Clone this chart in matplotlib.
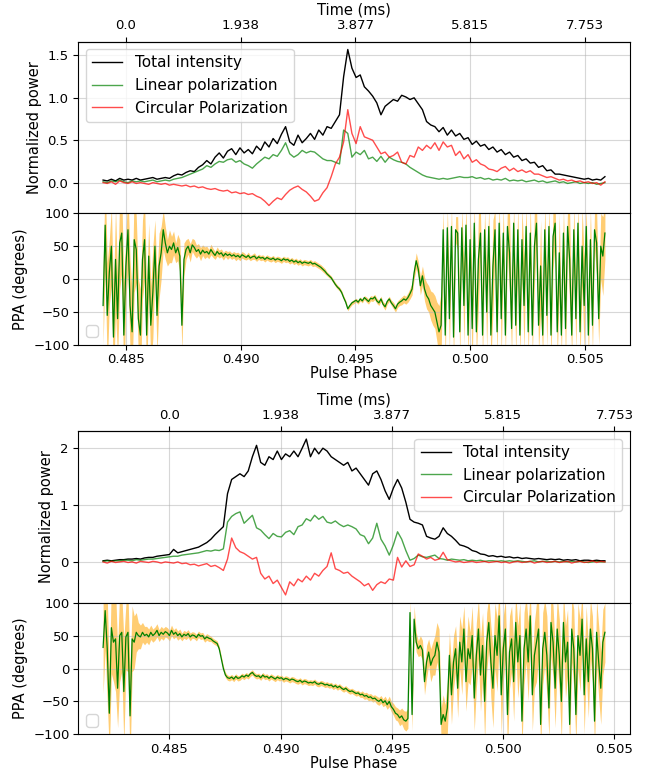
import numpy as np
import matplotlib
matplotlib.use("Agg")
import matplotlib.pyplot as plt

# ---------------- data ----------------
# Panel 1 (upper pair of axes)
phase1_start, phase1_end = 0.48401, 0.50586

I1 = [0.03, 0.02, 0.04, 0.02, 0.05, 0.03, 0.04, 0.03, 0.05, 0.03,
      0.04, 0.05, 0.06, 0.04, 0.05, 0.06, 0.05, 0.08, 0.10, 0.09,
      0.12, 0.14, 0.13, 0.18, 0.21, 0.26, 0.22, 0.30, 0.35, 0.29,
      0.37, 0.40, 0.33, 0.41, 0.35, 0.39, 0.34, 0.43, 0.38, 0.48,
      0.42, 0.52, 0.46, 0.57, 0.66, 0.48, 0.44, 0.56, 0.47, 0.52,
      0.58, 0.51, 0.62, 0.56, 0.66, 0.64, 0.72, 0.80, 1.25, 1.57,
      1.35, 1.24, 1.27, 1.13, 1.08, 1.02, 0.94, 0.80, 0.90, 0.94,
      0.98, 0.96, 1.03, 1.01, 0.98, 1.00, 0.93, 0.86, 0.72, 0.68,
      0.66, 0.60, 0.65, 0.56, 0.62, 0.55, 0.58, 0.51, 0.53, 0.45,
      0.49, 0.43, 0.45, 0.39, 0.42, 0.36, 0.39, 0.33, 0.36, 0.30,
      0.32, 0.26, 0.28, 0.23, 0.24, 0.18, 0.20, 0.14, 0.15, 0.10,
      0.10, 0.09, 0.08, 0.07, 0.06, 0.05, 0.04, 0.05, 0.03, 0.04,
      0.03, 0.07]
L1 = [0.01, 0.00, 0.02, 0.01, 0.03, 0.01, 0.00, 0.02, 0.01, 0.02,
      0.01, 0.02, 0.03, 0.01, 0.02, 0.03, 0.02, 0.04, 0.05, 0.06,
      0.08, 0.10, 0.12, 0.14, 0.16, 0.20, 0.18, 0.22, 0.25, 0.24,
      0.27, 0.28, 0.24, 0.26, 0.22, 0.20, 0.17, 0.22, 0.26, 0.30,
      0.28, 0.33, 0.31, 0.38, 0.47, 0.34, 0.30, 0.33, 0.38, 0.35,
      0.37, 0.36, 0.32, 0.28, 0.26, 0.26, 0.24, 0.22, 0.62, 0.58,
      0.30, 0.36, 0.33, 0.38, 0.28, 0.30, 0.25, 0.31, 0.24, 0.30,
      0.27, 0.25, 0.24, 0.22, 0.18, 0.15, 0.12, 0.09, 0.07, 0.06,
      0.05, 0.04, 0.05, 0.04, 0.05, 0.06, 0.07, 0.06, 0.06, 0.07,
      0.05, 0.06, 0.04, 0.05, 0.03, 0.04, 0.03, 0.05, 0.02, 0.03,
      0.02, 0.03, 0.01, 0.02, 0.03, 0.01, 0.02, 0.00, 0.01, 0.02,
      0.00, 0.01, -0.01, 0.00, 0.01, -0.01, 0.00, -0.01, 0.00, -0.02,
      -0.01, 0.00]
V1 = [0.00, -0.01, 0.01, -0.02, 0.02, 0.00, -0.01, 0.01, -0.01, 0.00,
      -0.01, -0.02, 0.00, -0.01, -0.02, -0.01, -0.03, -0.02, -0.03, -0.04,
      -0.03, -0.05, -0.04, -0.06, -0.05, -0.07, -0.08, -0.07, -0.09, -0.10,
      -0.09, -0.12, -0.11, -0.13, -0.12, -0.14, -0.13, -0.16, -0.18, -0.22,
      -0.27, -0.22, -0.18, -0.20, -0.14, -0.09, -0.06, -0.04, -0.08, -0.11,
      -0.16, -0.22, -0.20, -0.12, -0.06, 0.07, 0.22, 0.30, 0.48, 0.86,
      0.58, 0.46, 0.66, 0.54, 0.52, 0.50, 0.42, 0.34, 0.36, 0.30,
      0.32, 0.36, 0.24, 0.22, 0.32, 0.30, 0.42, 0.38, 0.44, 0.40,
      0.47, 0.38, 0.48, 0.42, 0.44, 0.32, 0.37, 0.28, 0.33, 0.24,
      0.27, 0.22, 0.20, 0.16, 0.15, 0.13, 0.17, 0.19, 0.14, 0.17,
      0.13, 0.15, 0.12, 0.14, 0.10, 0.10, 0.08, 0.06, 0.07, 0.05,
      0.03, 0.04, 0.02, 0.03, 0.01, 0.02, 0.00, 0.01, -0.01, 0.00,
      -0.03, 0.01]
PPA1 = [-40, 82, -55, 10, 50, -88, 30, -60, 55, 70, -85, 20, 75, -40, -80, 60, 45, -60, -85, 30,
        60, -85, 35, -70, -20, 50, -55, 20, 40, 75, 55, 40, 50, 45, 55, 40, 48, 35, -70, 30,
        45, 50, 40, 52, 48, 42, 45, 38, 44, 40, 42, 38, 45, 40, 36, 42, 38, 40, 35, 39,
        36, 38, 35, 37, 34, 36, 33, 37, 35, 33, 36, 32, 34, 35, 31, 34, 32, 33, 30, 33,
        31, 30, 32, 29, 31, 30, 28, 31, 29, 30, 27, 29, 26, 28, 25, 27, 24, 26, 25, 24,
        26, 23, 24, 22, 20, 18, 15, 12, 8, 5, 2, -3, -8, -12, -15, -20, -28, -35, -45, -40,
        -36, -34, -32, -35, -30, -33, -28, -31, -34, -29, -30, -27, -33, -36, -30, -38, -42, -34, -30, -36,
        -40, -45, -38, -35, -33, -30, -32, -28, -22, -15, 10, 28, 15, -10, 5, -15, -25, -30, -40, -45,
        -50, -65, -80, -70, 75, -85, 78, -60, 80, -88, 75, 70, -80, 78, -40, 82, -85, 60, -75, 85,
        -80, 30, 70, -85, 75, -50, 80, -85, 20, 75, -80, 85, -60, 70, -85, 80, 40, -75, 85, -70,
        75, -85, 60, -40, 80, -80, 70, -85, 50, 85, -70, 20, -85, 75, -55, 80, -85, 65, 85, -80,
        40, -85, 70, -75, 80, 30, -85, 75, -60, 85, -80, 50, -40, 80, -85, 60, -70, 75, 55, -60,
        50, 35, 70]
PPA1_err = [60, 70, 80, 50, 60, 70, 80, 60, 70, 60, 80, 50, 60, 70, 60, 80, 50, 60, 70, 60,
            60, 70, 50, 60, 70, 40, 60, 50, 40, 30, 25, 20, 25, 20, 18, 15, 20, 25, 40, 25,
            15, 12, 14, 10, 12, 10, 9, 10, 8, 9, 8, 7, 8, 7, 6, 7, 6, 6, 6, 5,
            6, 5, 5, 5, 6, 5, 5, 5, 5, 4, 5, 4, 4, 5, 4, 4, 4, 4, 4, 4,
            4, 4, 4, 4, 4, 4, 4, 4, 4, 4, 4, 4, 4, 4, 4, 4, 4, 4, 4, 4,
            4, 4, 4, 4, 4, 4, 4, 4, 3, 3, 3, 3, 3, 3, 3, 3, 3, 3, 3, 3,
            3, 3, 3, 3, 3, 3, 3, 4, 4, 4, 4, 4, 4, 4, 4, 4, 5, 4, 4, 4,
            5, 5, 5, 5, 6, 6, 6, 7, 8, 9, 10, 12, 12, 14, 15, 18, 20, 20, 22, 25,
            25, 30, 40, 50, 30, 40, 30, 50, 30, 40, 20, 25, 40, 30, 60, 30, 40, 50, 60, 30,
            40, 70, 30, 40, 30, 60, 30, 40, 70, 30, 40, 30, 60, 40, 30, 40, 60, 40, 30, 50,
            40, 30, 50, 70, 30, 40, 50, 30, 60, 30, 40, 70, 30, 40, 50, 30, 40, 50, 30, 40,
            60, 30, 40, 50, 30, 70, 30, 40, 50, 30, 40, 60, 70, 30, 40, 50, 40, 30, 50, 40,
            50, 60, 40]

# Panel 2 (lower pair of axes)
phase2_start, phase2_end = 0.48203, 0.50457

I2 = [0.02, 0.03, 0.02, 0.03, 0.04, 0.04, 0.05, 0.05, 0.06, 0.05,
      0.07, 0.08, 0.08, 0.10, 0.11, 0.12, 0.13, 0.22, 0.16, 0.18,
      0.20, 0.22, 0.24, 0.26, 0.30, 0.34, 0.40, 0.48, 0.55, 0.62,
      1.20, 1.45, 1.50, 1.55, 1.50, 1.60, 1.85, 2.05, 1.75, 1.70,
      1.85, 1.80, 1.95, 1.80, 1.90, 1.85, 1.95, 1.85, 2.00, 2.16,
      1.85, 2.00, 1.90, 2.00, 1.95, 1.85, 1.80, 1.75, 1.70, 1.75,
      1.60, 1.65, 1.55, 1.45, 1.35, 1.55, 1.60, 1.45, 1.25, 1.10,
      1.30, 1.45, 1.30, 1.05, 0.75, 0.70, 0.68, 0.65, 0.45, 0.42,
      0.40, 0.45, 0.60, 0.50, 0.45, 0.38, 0.30, 0.28, 0.25, 0.20,
      0.18, 0.14, 0.13, 0.10, 0.11, 0.09, 0.10, 0.08, 0.09, 0.07,
      0.08, 0.06, 0.07, 0.06, 0.05, 0.06, 0.05, 0.04, 0.05, 0.04,
      0.05, 0.03, 0.04, 0.03, 0.04, 0.02, 0.03, 0.03, 0.02, 0.03,
      0.02, 0.02]
L2 = [0.01, 0.02, 0.01, 0.02, 0.02, 0.03, 0.03, 0.02, 0.04, 0.03,
      0.04, 0.05, 0.05, 0.06, 0.07, 0.08, 0.09, 0.10, 0.10, 0.12,
      0.13, 0.14, 0.15, 0.16, 0.18, 0.20, 0.19, 0.21, 0.20, 0.23,
      0.70, 0.80, 0.85, 0.88, 0.68, 0.75, 0.82, 0.60, 0.56, 0.48,
      0.41, 0.50, 0.45, 0.44, 0.52, 0.55, 0.48, 0.62, 0.65, 0.76,
      0.72, 0.82, 0.75, 0.80, 0.70, 0.68, 0.72, 0.66, 0.62, 0.65,
      0.62, 0.58, 0.48, 0.45, 0.32, 0.42, 0.68, 0.40, 0.28, 0.12,
      0.30, 0.53, 0.40, 0.20, 0.03, 0.06, 0.12, 0.09, 0.08, 0.10,
      0.12, 0.06, 0.05, 0.03, 0.05, 0.04, 0.03, 0.04, 0.02, 0.03,
      0.02, 0.03, 0.01, 0.02, 0.02, 0.01, 0.02, 0.01, 0.02, 0.01,
      0.02, 0.01, 0.00, 0.01, 0.02, 0.00, 0.01, 0.01, 0.00, 0.01,
      0.00, 0.01, 0.00, 0.01, 0.00, 0.01, 0.00, -0.01, 0.00, 0.01,
      0.00, 0.00]
V2 = [0.00, -0.02, 0.01, -0.01, 0.00, 0.01, -0.01, 0.00, -0.02, 0.01,
      0.00, -0.01, 0.01, 0.00, -0.02, 0.00, -0.01, -0.02, 0.00, -0.03,
      -0.02, -0.05, -0.04, -0.07, -0.05, -0.03, -0.08, -0.06, -0.10, -0.15,
      0.05, 0.42, 0.25, 0.18, 0.15, 0.10, 0.05, 0.08, -0.20, -0.30,
      -0.25, -0.38, -0.32, -0.45, -0.58, -0.35, -0.42, -0.30, -0.35, -0.25,
      -0.32, -0.20, -0.25, -0.15, -0.08, 0.16, -0.12, -0.15, -0.20, -0.18,
      -0.25, -0.30, -0.35, -0.42, -0.38, -0.50, -0.40, -0.35, -0.38, -0.30,
      -0.32, 0.08, -0.09, 0.02, -0.08, -0.05, 0.14, 0.10, 0.05, 0.08,
      0.03, 0.05, 0.17, 0.04, 0.02, 0.00, 0.01, -0.01, 0.00, 0.01,
      -0.01, 0.00, 0.01, -0.01, 0.00, 0.01, -0.01, 0.00, -0.02, 0.00,
      0.01, -0.01, 0.00, 0.01, -0.02, 0.00, 0.01, -0.01, 0.00, 0.01,
      -0.01, 0.00, 0.01, -0.02, 0.00, 0.01, -0.01, 0.00, 0.02, -0.01,
      0.01, 0.00]
PPA2 = [32, 88, 30, -68, 62, 40, 45, -30, 50, 55, -35, 48, 55, -72, 45, 40, 55, 50, 48, 55,
        50, 52, 48, 55, 50, 53, 58, 50, 55, 52, 56, 54, 50, 58, 52, 55, 50, 53, 48, 52,
        50, 53, 48, 51, 50, 47, 52, 49, 50, 45, 48, 46, 45, 42, 40, 38, 30, 15, 0, -10,
        -14, -15, -13, -16, -12, -15, -14, -11, -13, -10, -12, -8, -6, -10, -12, -11, -14, -10, -13, -12,
        -15, -12, -14, -16, -13, -15, -14, -17, -15, -16, -18, -16, -17, -19, -20, -18, -21, -19, -20, -22,
        -21, -22, -20, -23, -24, -22, -23, -25, -24, -26, -25, -28, -26, -29, -27, -30, -32, -30, -33, -35,
        -34, -36, -38, -37, -40, -39, -42, -41, -44, -43, -46, -45, -48, -50, -47, -52, -49, -55, -50, -58,
        -62, -68, -70, -75, -72, -78, -80, -76, 85, -70, 75, 40, 30, 35, 28, -20, 10, 25, 5, 15,
        20, 40, 25, -85, -70, -80, -60, 20, -40, 10, 30, -30, 40, 10, 60, -20, 30, 15, 50, -45,
        20, 60, -10, 35, -50, 40, 70, 10, -30, 50, 20, 80, -40, 30, 60, -70, 25, 45, -20, 70,
        10, 50, -80, 30, 60, 10, 80, -40, 20, 40, 60, -85, 30, 55, 20, -60, 70, 40, -30, 60,
        20, -50, 70, 10, 40, -85, 60, 30, -70, 50, 20, 75, -40, 45, -20, 60, 30, -80, 55, 10,
        -30, 40, 55]
PPA2_err = [70, 60, 80, 60, 70, 60, 80, 60, 70, 60, 80, 50, 60, 70, 50, 40, 30, 20, 18, 15,
            14, 12, 12, 11, 10, 10, 10, 9, 9, 9, 8, 8, 8, 8, 7, 7, 7, 7, 6, 6,
            6, 6, 6, 5, 5, 5, 5, 5, 5, 5, 5, 5, 4, 4, 4, 4, 4, 4, 4, 4,
            4, 4, 4, 4, 4, 4, 4, 4, 4, 4, 4, 4, 4, 4, 4, 4, 4, 4, 4, 4,
            4, 4, 4, 4, 4, 4, 4, 4, 4, 4, 4, 4, 4, 4, 4, 4, 4, 4, 4, 4,
            4, 4, 4, 4, 4, 4, 4, 4, 4, 4, 4, 4, 4, 4, 4, 4, 4, 4, 4, 4,
            4, 4, 4, 4, 4, 5, 5, 5, 5, 5, 5, 5, 6, 6, 6, 6, 7, 7, 8, 8,
            9, 10, 10, 12, 12, 14, 15, 15, 20, 25, 20, 15, 12, 15, 15, 20, 25, 20, 25, 25,
            30, 30, 35, 25, 30, 25, 40, 35, 45, 40, 35, 45, 40, 50, 35, 45, 50, 40, 45, 50,
            50, 45, 55, 50, 60, 45, 40, 55, 60, 50, 55, 40, 60, 50, 45, 60, 55, 50, 60, 45,
            55, 50, 40, 55, 50, 60, 40, 55, 50, 60, 45, 40, 55, 50, 60, 45, 50, 55, 60, 50,
            55, 60, 45, 55, 50, 40, 50, 60, 45, 50, 55, 40, 60, 50, 55, 45, 50, 40, 50, 55,
            55, 50, 45]

phase_ticks = [0.485, 0.490, 0.495, 0.500, 0.505]
time_labels = ["0.0", "1.938", "3.877", "5.815", "7.753"]
ppa_ticks = [-100, -50, 0, 50, 100]

# ---------------- figure ----------------
W, H = 648, 773
fig = plt.figure(figsize=(W / 100, H / 100), dpi=100)

TICK_FS = 9.5
LABEL_FS = 10.5
LEG_FS = 11


def box(top_px, bottom_px, left_px=78, right_px=630):
    return [left_px / W, 1 - bottom_px / H, (right_px - left_px) / W,
            (bottom_px - top_px) / H]


def draw_panel(top_box, ppa_box, p0, p1, I, L, V, P, E, prof_ticks, legloc):
    phase = np.linspace(p0, p1, len(I))
    axp = fig.add_axes(top_box)
    axa = fig.add_axes(ppa_box, sharex=axp)

    axp.plot(phase, I, color="black", lw=1.0, label="Total intensity")
    axp.plot(phase, L, color="green", alpha=0.7, lw=1.0, label="Linear polarization")
    axp.plot(phase, V, color="red", alpha=0.7, lw=1.0, label="Circular Polarization")
    axp.set_ylabel("Normalized power", fontsize=LABEL_FS)
    axp.set_yticks(prof_ticks)
    axp.grid(True, color="#b0b0b0", alpha=0.5, lw=0.8)
    axp.tick_params(labelbottom=False, labelsize=TICK_FS)
    axp.legend(loc=legloc, fontsize=LEG_FS)

    n = min(len(P), len(E))
    P = np.array(P[:n], dtype=float)
    E = np.array(E[:n], dtype=float)
    phase_p = np.linspace(p0, p1, n)
    axa.fill_between(phase_p, P - E, P + E, color="orange", alpha=0.55, lw=0)
    axa.plot(phase_p, P, color="green", lw=0.9)
    axa.set_ylim(-100, 100)
    axa.set_yticks(ppa_ticks)
    axa.set_ylabel("PPA (degrees)", fontsize=LABEL_FS)
    axa.set_xlabel("Pulse Phase", fontsize=LABEL_FS, labelpad=0)
    axa.grid(True, color="#b0b0b0", alpha=0.5, lw=0.8)
    axa.tick_params(labelsize=TICK_FS, pad=2.5)
    axa.set_xticks(phase_ticks)
    axa.set_xticklabels([f"{t:.3f}" for t in phase_ticks])
    axa.legend(handles=[], loc="lower left", fontsize=LEG_FS)

    sec = axp.secondary_xaxis("top")
    sec.set_xticks(phase_ticks)
    sec.set_xticklabels(time_labels)
    sec.tick_params(labelsize=TICK_FS)
    sec.set_xlabel("Time (ms)", fontsize=LABEL_FS, labelpad=3)
    return axp, axa


draw_panel(box(41.7, 213.3), box(213.3, 345.0), phase1_start, phase1_end,
           I1, L1, V1, PPA1, PPA1_err, [0.0, 0.5, 1.0, 1.5], "upper left")
draw_panel(box(431.3, 602.7), box(602.7, 734.3), phase2_start, phase2_end,
           I2, L2, V2, PPA2, PPA2_err, [0, 1, 2], "upper right")

fig.savefig("out.png", dpi=100)
